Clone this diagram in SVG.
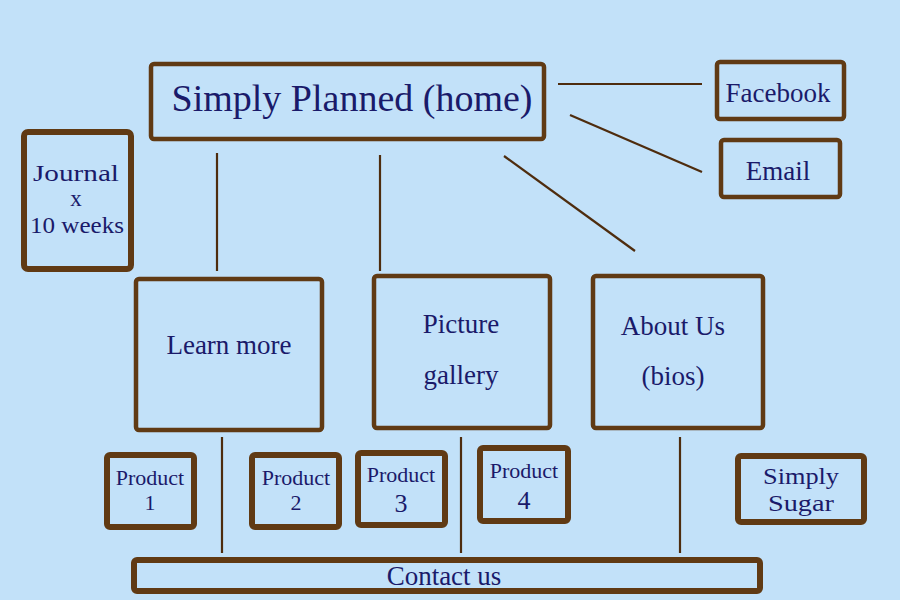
<svg xmlns="http://www.w3.org/2000/svg" width="900" height="600" viewBox="0 0 900 600">
<style>
.bx{fill:#c2e1f9;stroke:#603a14;stroke-width:4.5;}
.bt{fill:#c2e1f9;stroke:#603a14;stroke-width:6;}
.ln{stroke:#4e2c0e;stroke-width:2.2;fill:none;}
text{font-family:"Liberation Serif","DejaVu Serif",serif;fill:#1a1a6a;text-anchor:middle;}
</style>
<rect width="900" height="600" fill="#c2e1f9"/>
<g id="connectors">
<line class="ln" x1="558" y1="84" x2="702" y2="84"/>
<line class="ln" x1="570" y1="115" x2="702" y2="172"/>
<line class="ln" x1="504" y1="156" x2="635" y2="251"/>
<line class="ln" x1="217" y1="153" x2="217" y2="271"/>
<line class="ln" x1="380" y1="155" x2="380" y2="271"/>
<line class="ln" x1="222" y1="437" x2="222" y2="553"/>
<line class="ln" x1="461" y1="437" x2="461" y2="553"/>
<line class="ln" x1="680" y1="437" x2="680" y2="553"/>
</g>
<g id="home"><rect class="bx" x="151" y="64" width="393" height="75" rx="3"/><text x="352" y="111" font-size="38">Simply Planned (home)</text></g>
<g id="facebook"><rect class="bx" x="717" y="62" width="127" height="57" rx="3"/><text x="778" y="102" font-size="27">Facebook</text></g>
<g id="email"><rect class="bx" x="721" y="140" width="119" height="57" rx="3"/><text x="778" y="180" font-size="27">Email</text></g>
<g id="journal"><rect class="bt" x="24" y="132" width="107" height="137" rx="4"/><text x="76" y="181" font-size="23" textLength="86" lengthAdjust="spacingAndGlyphs">Journal</text><text x="76" y="206" font-size="23">x</text><text x="77" y="233" font-size="23" textLength="94" lengthAdjust="spacingAndGlyphs">10 weeks</text></g>
<g id="learn"><rect class="bx" x="136" y="279" width="186" height="151" rx="3"/><text x="229" y="354" font-size="27">Learn more</text></g>
<g id="gallery"><rect class="bx" x="374" y="276" width="176" height="152" rx="3"/><text x="461" y="333" font-size="27">Picture</text><text x="461" y="384" font-size="27">gallery</text></g>
<g id="about"><rect class="bx" x="593" y="276" width="170" height="152" rx="3"/><text x="673" y="335" font-size="27">About Us</text><text x="673" y="385" font-size="27">(bios)</text></g>
<g id="p1"><rect class="bt" x="107" y="455" width="87" height="72" rx="3"/><text x="150" y="485" font-size="22">Product</text><text x="150" y="510" font-size="22">1</text></g>
<g id="p2"><rect class="bt" x="252" y="455" width="87" height="72" rx="3"/><text x="296" y="485" font-size="22">Product</text><text x="296" y="510" font-size="22">2</text></g>
<g id="p3"><rect class="bt" x="358" y="453" width="87" height="72" rx="3"/><text x="401" y="482" font-size="22">Product</text><text x="401" y="512" font-size="26">3</text></g>
<g id="p4"><rect class="bt" x="480" y="448" width="88" height="73" rx="3"/><text x="524" y="478" font-size="22">Product</text><text x="524" y="509" font-size="26">4</text></g>
<g id="sugar"><rect class="bt" x="738" y="456" width="126" height="66" rx="3"/><text x="801" y="484" font-size="24" textLength="76" lengthAdjust="spacingAndGlyphs">Simply</text><text x="801" y="511" font-size="24" textLength="66" lengthAdjust="spacingAndGlyphs">Sugar</text></g>
<g id="contact"><rect class="bt" x="134" y="560" width="626" height="31" rx="3"/><text x="444" y="585" font-size="27">Contact us</text></g>
</svg>
